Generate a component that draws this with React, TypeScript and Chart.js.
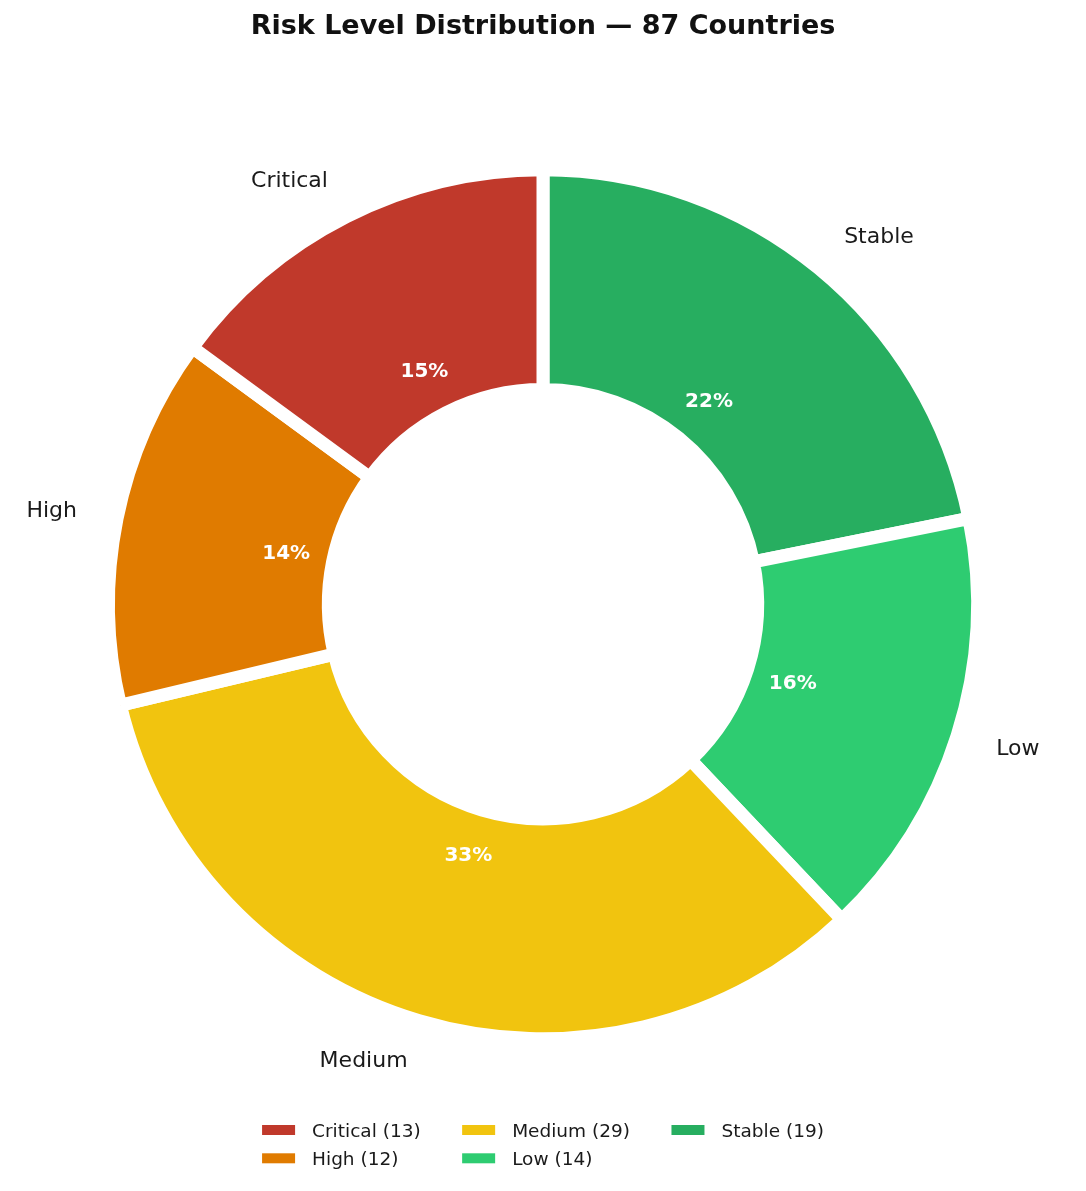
import React, { useEffect, useRef } from 'react';
import { Chart, registerables } from 'chart.js';

Chart.register(...registerables);

// Risk buckets, in the order the legend lists them
const CATEGORIES = ['Critical', 'High', 'Medium', 'Low', 'Stable'];
const COUNTS = [13, 12, 29, 14, 19];
const COLORS = ['#c0392b', '#e07b00', '#f1c40f', '#2ecc71', '#27ae60'];
const TITLE = 'Risk Level Distribution — 87 Countries';

const W = 1086;
const H = 1191;
const FONT = '"DejaVu Sans", "Liberation Sans", sans-serif';
const TOTAL = COUNTS.reduce((a, b) => a + b, 0);

// the source pie runs counter-clockwise from 12 o'clock, Chart.js runs clockwise -> reverse
const ringLabels = [...CATEGORIES].reverse();
const ringValues = [...COUNTS].reverse();
const ringColors = [...COLORS].reverse();

const LABEL_DIST = 1.094; // category names, fraction of outer radius
const PCT_DIST = 0.603;   // percentages

const decorPlugin = {
  id: 'decor',
  afterDatasetsDraw(chart: Chart) {
    const ctx = chart.ctx;
    const meta = chart.getDatasetMeta(0);
    const labels = chart.data.labels as string[];
    const values = chart.data.datasets[0].data as number[];
    ctx.save();

    meta.data.forEach((el: any, i: number) => {
      const mid = (el.startAngle + el.endAngle) / 2;
      const cos = Math.cos(mid);
      const sin = Math.sin(mid);

      const lr = el.outerRadius * LABEL_DIST;
      ctx.font = `22px ${FONT}`;
      ctx.fillStyle = '#1a1a1a';
      ctx.textAlign = cos > 0 ? 'left' : 'right';
      ctx.textBaseline = 'alphabetic';
      ctx.fillText(labels[i], el.x + lr * cos, el.y + lr * sin + 6.7);

      const pr = el.outerRadius * PCT_DIST;
      ctx.font = `bold 20px ${FONT}`;
      ctx.fillStyle = '#fff';
      ctx.textAlign = 'center';
      ctx.fillText(`${Math.round((values[i] / TOTAL) * 100)}%`, el.x + pr * cos, el.y + pr * sin + 6);
    });

    // title
    ctx.font = `bold 27px ${FONT}`;
    ctx.fillStyle = '#111';
    ctx.textAlign = 'center';
    ctx.fillText(TITLE, chart.width / 2, 34);

    // legend: 3 columns, filled column by column
    const ncol = 3;
    const nrow = Math.ceil(CATEGORIES.length / ncol);
    const boxW = 33;
    const boxH = 10;
    const gap = 17;
    const colSpace = 41.5;
    const rowY = [1130, 1158.3];
    ctx.font = `18.5px ${FONT}`;
    const texts = CATEGORIES.map((c, i) => `${c} (${COUNTS[i]})`);
    const colW: number[] = [];
    for (let c = 0; c < ncol; c++) {
      let m = 0;
      for (let r = 0; r < nrow; r++) {
        const k = c * nrow + r;
        if (k < texts.length) m = Math.max(m, ctx.measureText(texts[k]).width);
      }
      colW.push(boxW + gap + m);
    }
    const total = colW.reduce((a, b) => a + b, 0) + colSpace * (ncol - 1);
    let x = chart.width / 2 - total / 2;
    ctx.textAlign = 'left';
    for (let c = 0; c < ncol; c++) {
      for (let r = 0; r < nrow; r++) {
        const k = c * nrow + r;
        if (k >= texts.length) continue;
        ctx.fillStyle = COLORS[k];
        ctx.fillRect(x, rowY[r] - boxH / 2, boxW, boxH);
        ctx.fillStyle = '#1a1a1a';
        ctx.fillText(texts[k], x + boxW + gap, rowY[r] + 6.8);
      }
      x += colW[c] + colSpace;
    }

    ctx.restore();
  },
};

export default function App() {
  const canvasRef = useRef<HTMLCanvasElement>(null);

  useEffect(() => {
    if (!canvasRef.current) return;
    const chart = new Chart(canvasRef.current, {
      type: 'doughnut',
      data: {
        labels: ringLabels,
        datasets: [
          {
            data: ringValues,
            backgroundColor: ringColors,
            borderColor: '#ffffff',
            borderWidth: 13,
            hoverBorderWidth: 13,
            borderJoinStyle: 'miter',
            hoverOffset: 0,
          } as any,
        ],
      },
      options: {
        responsive: false,
        animation: false,
        events: [],
        radius: 434.5,
        cutout: '49.4%',
        layout: { padding: { left: 100, right: 100, top: 150, bottom: 132.6 } },
        plugins: {
          legend: { display: false },
          title: { display: false },
          tooltip: { enabled: false },
        },
      } as any,
      plugins: [decorPlugin],
    });
    return () => chart.destroy();
  }, []);

  return (
    <div style={{ position: 'absolute', left: 0, top: 0, width: W, height: H, background: '#fff' }}>
      <canvas ref={canvasRef} width={W} height={H} style={{ display: 'block' }} />
    </div>
  );
}
